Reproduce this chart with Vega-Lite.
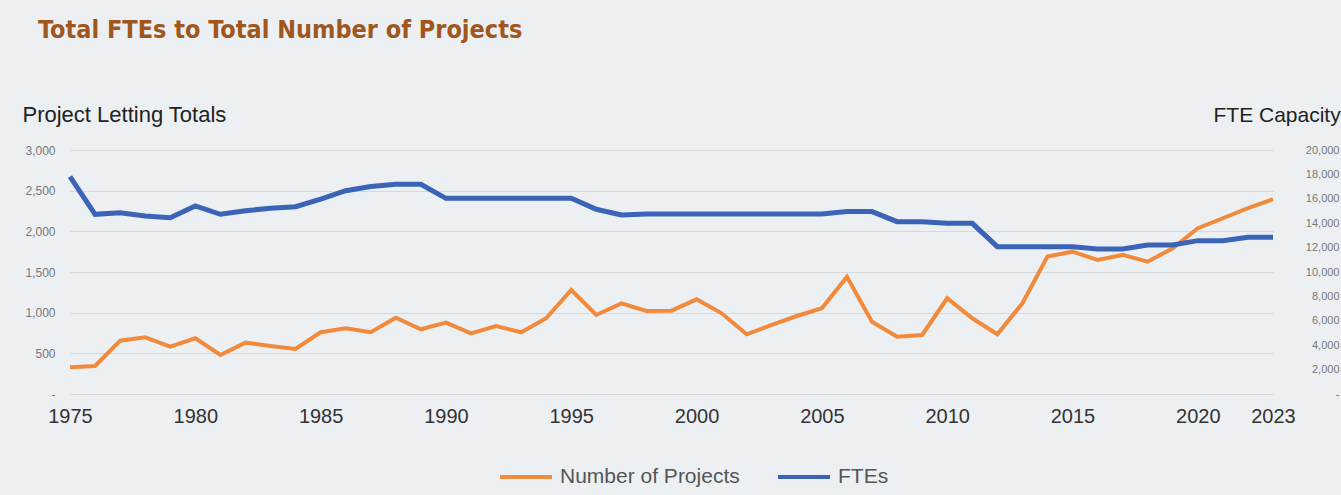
{
  "$schema": "https://vega.github.io/schema/vega-lite/v6.json",
  "autosize": "none",
  "width": 1203,
  "height": 244,
  "padding": {"left": 70, "top": 150, "right": 68, "bottom": 101},
  "background": "#EDF0F3",
  "title": {
    "text": "Total FTEs to Total Number of Projects",
    "anchor": "start",
    "frame": "group",
    "font": "DejaVu Sans Condensed, sans-serif",
    "fontSize": 25,
    "fontWeight": "bold",
    "color": "#A0571D",
    "dx": -32,
    "offset": 60
  },
  "config": {
    "view": {"stroke": null},
    "font": "Liberation Sans, Arial, sans-serif",
    "axis": {"labelFont": "Liberation Sans, Arial, sans-serif", "titleFont": "Liberation Sans, Arial, sans-serif"}
  },
  "data": {
    "values": [
      {"year": 1975, "projects": 330, "ftes": 17810},
      {"year": 1976, "projects": 345, "ftes": 14730},
      {"year": 1977, "projects": 656, "ftes": 14860},
      {"year": 1978, "projects": 697, "ftes": 14590},
      {"year": 1979, "projects": 582, "ftes": 14450},
      {"year": 1980, "projects": 685, "ftes": 15410},
      {"year": 1981, "projects": 480, "ftes": 14730},
      {"year": 1982, "projects": 631, "ftes": 15025},
      {"year": 1983, "projects": 590, "ftes": 15220},
      {"year": 1984, "projects": 553, "ftes": 15350},
      {"year": 1985, "projects": 759, "ftes": 15980},
      {"year": 1986, "projects": 808, "ftes": 16665},
      {"year": 1987, "projects": 759, "ftes": 17000},
      {"year": 1988, "projects": 938, "ftes": 17190},
      {"year": 1989, "projects": 796, "ftes": 17190},
      {"year": 1990, "projects": 877, "ftes": 16040},
      {"year": 1991, "projects": 746, "ftes": 16040},
      {"year": 1992, "projects": 836, "ftes": 16040},
      {"year": 1993, "projects": 759, "ftes": 16040},
      {"year": 1994, "projects": 931, "ftes": 16040},
      {"year": 1995, "projects": 1279, "ftes": 16040},
      {"year": 1996, "projects": 972, "ftes": 15140},
      {"year": 1997, "projects": 1115, "ftes": 14670},
      {"year": 1998, "projects": 1021, "ftes": 14750},
      {"year": 1999, "projects": 1025, "ftes": 14750},
      {"year": 2000, "projects": 1164, "ftes": 14750},
      {"year": 2001, "projects": 992, "ftes": 14750},
      {"year": 2002, "projects": 734, "ftes": 14750},
      {"year": 2003, "projects": 849, "ftes": 14750},
      {"year": 2004, "projects": 959, "ftes": 14750},
      {"year": 2005, "projects": 1054, "ftes": 14750},
      {"year": 2006, "projects": 1440, "ftes": 14950},
      {"year": 2007, "projects": 889, "ftes": 14950},
      {"year": 2008, "projects": 705, "ftes": 14125},
      {"year": 2009, "projects": 726, "ftes": 14125},
      {"year": 2010, "projects": 1177, "ftes": 13990},
      {"year": 2011, "projects": 931, "ftes": 13990},
      {"year": 2012, "projects": 734, "ftes": 12075},
      {"year": 2013, "projects": 1115, "ftes": 12075},
      {"year": 2014, "projects": 1689, "ftes": 12075},
      {"year": 2015, "projects": 1750, "ftes": 12075},
      {"year": 2016, "projects": 1648, "ftes": 11890},
      {"year": 2017, "projects": 1710, "ftes": 11890},
      {"year": 2018, "projects": 1627, "ftes": 12210},
      {"year": 2019, "projects": 1792, "ftes": 12210},
      {"year": 2020, "projects": 2038, "ftes": 12570},
      {"year": 2021, "projects": 2161, "ftes": 12570},
      {"year": 2022, "projects": 2284, "ftes": 12840},
      {"year": 2023, "projects": 2395, "ftes": 12840}
    ]
  },
  "encoding": {
    "x": {
      "field": "year",
      "type": "quantitative",
      "scale": {"domain": [1975, 2023], "nice": false, "zero": false},
      "axis": {
        "title": null,
        "values": [1975, 1980, 1985, 1990, 1995, 2000, 2005, 2010, 2015, 2020, 2023],
        "format": "d",
        "grid": false,
        "domain": false,
        "ticks": false,
        "labelPadding": 12,
        "labelFontSize": 20,
        "labelColor": "#333333",
        "labelFlush": false
      }
    },
    "color": {
      "scale": {"domain": ["Number of Projects", "FTEs"], "range": ["#F28A3C", "#3B63B7"]},
      "legend": {
        "title": null,
        "orient": "none",
        "legendX": 428,
        "legendY": 299,
        "direction": "horizontal",
        "symbolType": "stroke",
        "symbolSize": 2704,
        "symbolStrokeWidth": 4,
        "labelFontSize": 21,
        "labelColor": "#555555",
        "labelLimit": 400,
        "columnPadding": 30,
        "labelOffset": 6
      }
    }
  },
  "layer": [
    {
      "mark": {"type": "line", "strokeWidth": 4},
      "encoding": {
        "y": {
          "field": "projects",
          "type": "quantitative",
          "scale": {"domain": [0, 3000], "nice": false},
          "axis": {
            "title": "Project Letting Totals",
            "titleAngle": 0,
            "titleX": -48,
            "titleY": -29,
            "titleAlign": "left",
            "titleBaseline": "alphabetic",
            "titleFontSize": 22,
            "titleFontWeight": "normal",
            "titleColor": "#222222",
            "values": [0, 500, 1000, 1500, 2000, 2500, 3000],
            "labelExpr": "datum.value == 0 ? '-' : format(datum.value, ',')",
            "labelFontSize": 12,
            "labelColor": "#777777",
            "labelPadding": 15,
            "ticks": false,
            "domain": false,
            "grid": true,
            "gridColor": "#D6D9DC",
            "gridWidth": 1
          }
        },
        "color": {"datum": "Number of Projects"}
      }
    },
    {
      "mark": {"type": "line", "strokeWidth": 5},
      "encoding": {
        "y": {
          "field": "ftes",
          "type": "quantitative",
          "scale": {"domain": [0, 20000], "nice": false},
          "axis": {
            "orient": "right",
            "title": "FTE Capacity",
            "titleAngle": 0,
            "titleX": -60,
            "titleY": -29,
            "titleAlign": "left",
            "titleBaseline": "alphabetic",
            "titleFontSize": 21,
            "titleFontWeight": "normal",
            "titleColor": "#222222",
            "values": [0, 2000, 4000, 6000, 8000, 10000, 12000, 14000, 16000, 18000, 20000],
            "labelExpr": "datum.value == 0 ? '-' : format(datum.value, ',')",
            "labelFontSize": 11,
            "labelColor": "#777777",
            "labelAlign": "right",
            "labelPadding": 66,
            "ticks": false,
            "domain": false,
            "grid": false
          }
        },
        "color": {"datum": "FTEs"}
      }
    }
  ],
  "resolve": {"scale": {"y": "independent"}}
}
